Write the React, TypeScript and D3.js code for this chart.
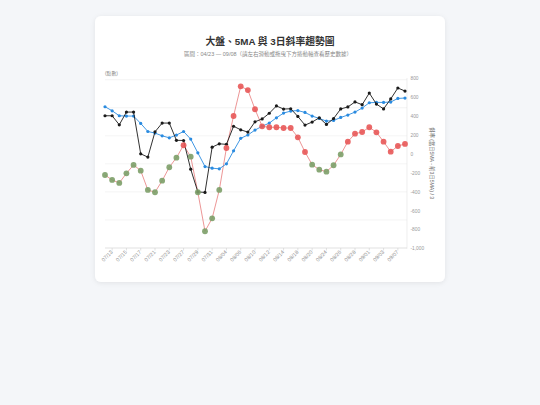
import React from 'react';
import * as d3 from 'd3';

const dates = [
  '07/10', '07/13', '07/14', '07/15', '07/16', '07/17', '07/20', '07/21', '07/22', '07/23',
  '07/24', '07/27', '07/28', '07/29', '07/30', '07/31', '08/03', '08/04', '08/05', '08/06',
  '08/07', '08/10', '08/11', '08/12', '08/13', '08/14', '08/17', '08/18', '08/19', '08/20',
  '08/21', '08/24', '08/25', '08/26', '08/27', '08/28', '08/31', '09/01', '09/02', '09/03',
  '09/04', '09/07', '09/08',
];

const indexValues = [
  23357, 23357, 23196, 23423, 23423, 22679, 22620, 23071, 23227, 23227,
  22920, 22916, 22405, 22000, 21991, 22798, 22857, 22848, 23170, 23107,
  23066, 23250, 23300, 23402, 23532, 23477, 23482, 23345, 23191, 23245,
  23321, 23202, 23307, 23479, 23514, 23604, 23554, 23762, 23566, 23479,
  23657, 23852, 23798,
];

const ma5Values = [
  23518, 23446, 23357, 23352, 23352, 23220, 23077, 23048, 23000, 22964,
  23013, 23077, 22941, 22696, 22452, 22423, 22411, 22500, 22732, 22955,
  23014, 23102, 23170, 23227, 23321, 23405, 23441, 23450, 23416, 23352,
  23309, 23262, 23273, 23327, 23370, 23423, 23495, 23589, 23595, 23595,
  23602, 23666, 23673,
];

const slopeValues = [
  -222, -274, -306, -204, -116, -176, -380, -404, -282, -140,
  -39, 92, -28, -404, -816, -679, -380, 63, 401, 714,
  675, 472, 292, 282, 282, 274, 274, 176, 21, -113,
  -166, -187, -119, -5, 130, 214, 232, 282, 229, 130,
  24, 84, 106,
];

const leftTicks = [21000, 21500, 22000, 22500, 23000, 23500, 24000];
const rightTicks = [800, 600, 400, 200, 0, -200, -400, -600, -800, -1000];

const title = '大盤、5MA 與 3日斜率趨勢圖';
const subtitle = '區間：04/23 — 09/08（請左右滑動或拖曳下方捲動軸查看歷史數據）';
const leftAxisName = '(點數)';
const rightAxisName = '斜率 (當日5MA - 前3日5MA) / 3';

const FONT = "'Liberation Sans', 'Noto Sans CJK TC', sans-serif";

export default function App() {
  const W = 540;
  const H = 405;
  const plotLeft = 105;
  const plotRight = 407;

  const x = d3.scalePoint<string>().domain(dates).range([105, 405]);
  const yL = d3.scaleLinear().domain([21000, 24000]).range([248, 79.7]);
  const yR = d3.scaleLinear().domain([-1000, 800]).range([248.7, 78.2]);

  const fmt = d3
    .formatLocale({ decimal: '.', thousands: ',', grouping: [3], currency: ['', ''], minus: '-' })
    .format(',');

  const lineL = d3
    .line<number>()
    .x((_, i) => x(dates[i]) as number)
    .y((d) => yL(d));
  const lineR = d3
    .line<number>()
    .x((_, i) => x(dates[i]) as number)
    .y((d) => yR(d));

  return (
    <svg
      width={W}
      height={H}
      style={{ position: 'absolute', left: 0, top: 0, display: 'block' }}
      fontFamily={FONT}
    >
      <defs>
        <filter id="shadow" x="-10%" y="-10%" width="120%" height="120%">
          <feDropShadow dx="0" dy="1" stdDeviation="2.5" floodColor="#000" floodOpacity="0.08" />
        </filter>
        <clipPath id="plotclip">
          <rect x={plotLeft - 4} y={70} width={plotRight - plotLeft + 8} height={185} />
        </clipPath>
      </defs>
      <rect x={0} y={0} width={W} height={H} fill="#f4f6f9" />
      <rect x={95} y={16} width={350} height={266} rx={6} fill="#ffffff" filter="url(#shadow)" />

      <text x={270} y={45} textAnchor="middle" fontSize={9.8} fontWeight="bold" fill="#333">
        {title}
      </text>
      <text x={268} y={55.5} textAnchor="middle" fontSize={5.5} fill="#888">
        {subtitle}
      </text>

      {/* gridlines (left axis) */}
      {leftTicks.map((t) => (
        <line
          key={'g' + t}
          x1={plotLeft}
          x2={plotRight}
          y1={yL(t)}
          y2={yL(t)}
          stroke={t === leftTicks[0] ? '#cfcfcf' : '#ececec'}
          strokeWidth={0.6}
        />
      ))}
      <text x={plotLeft} y={74.5} fontSize={4.8} fill="#888">
        {leftAxisName}
      </text>

      {/* right axis */}
      <line x1={plotRight} x2={plotRight} y1={78} y2={248.7} stroke="#e2e2e2" strokeWidth={0.6} />
      {rightTicks.map((t) => (
        <text key={'r' + t} x={plotRight + 3.5} y={yR(t) + 1.7} fontSize={4.8} fill="#999">
          {fmt(t)}
        </text>
      ))}
      <text
        transform={`translate(430, ${(78 + 248.7) / 2}) rotate(90)`}
        textAnchor="middle"
        fontSize={5.2}
        fill="#666"
      >
        {rightAxisName}
      </text>

      {/* x axis ticks and labels */}
      {dates.map((d, i) =>
        i % 2 === 1 ? (
          <g key={'x' + d}>
            <line x1={x(d)} x2={x(d)} y1={248} y2={250.5} stroke="#cfcfcf" strokeWidth={0.6} />
            <text
              transform={`translate(${(x(d) as number) + 1}, ${252.5}) rotate(-45)`}
              textAnchor="end"
              fontSize={5.3}
              fill="#8a8a8a"
            >
              {d}
            </text>
          </g>
        ) : null
      )}

      <g clipPath="url(#plotclip)">
        {/* slope line */}
        <path d={lineR(slopeValues) || ''} fill="none" stroke="#e77b7b" strokeWidth={0.8} />
        {/* 5MA */}
        <path d={lineL(ma5Values) || ''} fill="none" stroke="#2a8be0" strokeWidth={0.9} />
        {ma5Values.map((v, i) => (
          <circle key={'m' + i} cx={x(dates[i])} cy={yL(v)} r={1.6} fill="#2a8be0" />
        ))}
        {/* index */}
        <path d={lineL(indexValues) || ''} fill="none" stroke="#1a1a1a" strokeWidth={0.9} />
        {indexValues.map((v, i) => (
          <circle key={'k' + i} cx={x(dates[i])} cy={yL(v)} r={1.6} fill="#1a1a1a" />
        ))}
        {/* slope dots */}
        {slopeValues.map((v, i) => (
          <circle
            key={'s' + i}
            cx={x(dates[i])}
            cy={yR(v)}
            r={2.9}
            fill={v >= 0 ? '#e85858' : '#7c9f68'}
            fillOpacity={0.9}
          />
        ))}
      </g>
    </svg>
  );
}
